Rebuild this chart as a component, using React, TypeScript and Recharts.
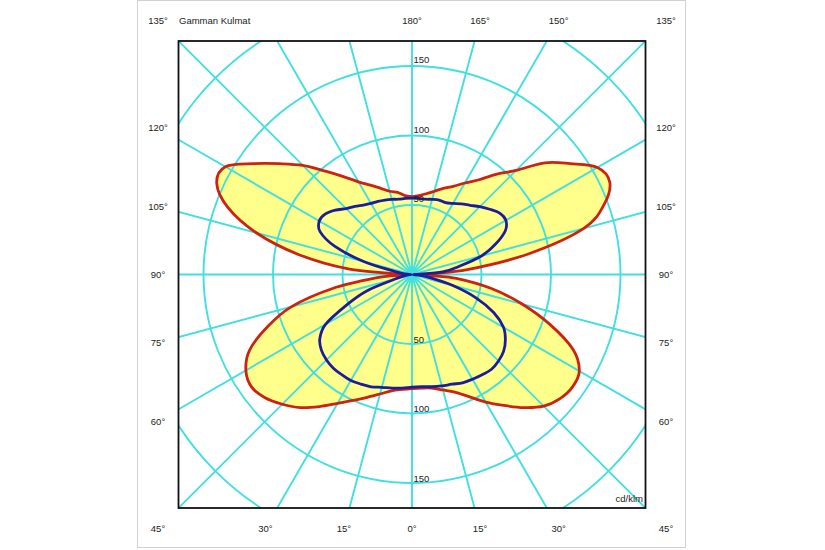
import {
  PolarAngleAxis,
  PolarGrid,
  PolarRadiusAxis,
  Radar,
  RadarChart,
} from "recharts";

// gamma angles (deg from nadir) and intensities in cd/klm, read per half-plane
const gammaDeg = [
  0, 5, 10, 15, 20, 25, 30, 35, 40, 45, 50, 55, 60, 65, 70, 75, 80, 85, 90,
  95, 100, 105, 110, 115, 120, 125, 130, 135, 140, 145, 150, 155, 160, 165,
  170, 175, 180,
];

const redRight = [
  82, 82, 83, 86, 90, 97, 106, 115, 125, 134, 139, 141, 139, 128, 106, 82, 58,
  32, 10, 40, 85, 128, 147, 157, 154, 139, 125, 106, 94, 83, 76, 70, 66, 62,
  59, 57, 56,
];

const redLeft = [
  82, 83, 85, 89, 94, 100, 107, 116, 125, 132, 138, 141, 138, 129, 111, 90,
  58, 24, 8, 46, 83, 116, 141, 155, 155, 139, 124, 111, 97, 86, 77, 71, 66, 62,
  60, 57, 56,
];

const blueRight = [
  81, 81, 82, 83, 84, 86, 87, 88, 89, 88, 86, 82, 76, 65, 49, 30, 13, 5, 2,
  22, 35, 52, 64, 74, 78, 77, 73, 69, 65, 62, 59, 57, 57, 56, 55, 55, 55,
];

const blueLeft = [
  81, 82, 83, 84, 86, 87, 88, 88, 88, 87, 85, 81, 72, 52, 35, 12, 5, 2, 1, 5,
  13, 36, 59, 73, 77, 76, 72, 67, 64, 61, 59, 58, 57, 56, 55, 55, 55,
];

const angleTicks = [
  0, 15, 30, 45, 60, 75, 90, 105, 120, 135, 150, 165, 180, 195, 210, 225, 240,
  255, 270, 285, 300, 315, 330, 345,
];
const hiddenAngleLabels = [195, 210];
const ringTicks = [0, 50, 100, 150, 200, 250];
const ringLabels = [50, 100, 150];

// right half: theta = gamma, left half: theta = 360 - gamma
const rows = [
  ...gammaDeg.map((g, i) => ({ theta: g, red: redRight[i], blue: blueRight[i] })),
  ...gammaDeg
    .map((g, i) => ({ theta: 360 - g, red: redLeft[i], blue: blueLeft[i] }))
    .filter((r) => r.theta > 180 && r.theta < 360)
    .reverse(),
];

const W = 825;
const H = 550;
const CX = 412;
const CY = 274.5;
const HALF = 233.5;
const LABEL_HALF = 254;
const OUTER = 347.5;

const FONT = '"Liberation Sans", Arial, Helvetica, sans-serif';
const TEXT = "#222";

// closed smooth outline through the radar points
function SmoothShape(props: any) {
  const { points, fill, fillOpacity, stroke, strokeWidth } = props;
  if (!points || points.length < 3) return null;
  const n = points.length;
  const p = (i: number) => points[(i + n) % n];
  let d = `M${p(0).x},${p(0).y}`;
  for (let i = 0; i < n; i++) {
    const p0 = p(i - 1);
    const p1 = p(i);
    const p2 = p(i + 1);
    const p3 = p(i + 2);
    const c1x = p1.x + (p2.x - p0.x) / 6;
    const c1y = p1.y + (p2.y - p0.y) / 6;
    const c2x = p2.x - (p3.x - p1.x) / 6;
    const c2y = p2.y - (p3.y - p1.y) / 6;
    d += `C${c1x},${c1y} ${c2x},${c2y} ${p2.x},${p2.y}`;
  }
  d += "Z";
  return (
    <path
      d={d}
      fill={fill}
      fillOpacity={fillOpacity}
      stroke={stroke}
      strokeWidth={strokeWidth}
      strokeLinejoin="round"
    />
  );
}

// degree labels sit on a square around the plot, along each spoke
function AngleTick(props: any) {
  const { payload } = props;
  const cx = props.cx ?? CX;
  const cy = props.cy ?? CY;
  const theta = payload.value;
  if (hiddenAngleLabels.includes(theta)) return null;
  const a = (payload.coordinate * Math.PI) / 180;
  const dx = Math.cos(a);
  const dy = -Math.sin(a);
  const k = LABEL_HALF / Math.max(Math.abs(dx), Math.abs(dy));
  const label = theta <= 180 ? theta : 360 - theta;
  return (
    <text
      x={cx + dx * k}
      y={cy + dy * k}
      textAnchor="middle"
      dominantBaseline="central"
      fontSize={9.5}
      fontFamily={FONT}
      fill={TEXT}
    >
      {label}°
    </text>
  );
}

// ring values, drawn above and below the centre
function RingTick(props: any) {
  const { x, y, payload } = props;
  const cy = props.cy ?? CY;
  if (!ringLabels.includes(payload.value)) return null;
  return (
    <g>
      <text x={x + 1.5} y={y - 3} fontSize={9.5} fontFamily={FONT} fill={TEXT}>
        {payload.value}
      </text>
      <text x={x + 1.5} y={2 * cy - y - 1.5} fontSize={9.5} fontFamily={FONT} fill={TEXT}>
        {payload.value}
      </text>
    </g>
  );
}

const chartProps = {
  width: W,
  height: H,
  data: rows,
  cx: CX,
  cy: CY,
  outerRadius: OUTER,
  startAngle: -90,
  endAngle: 270,
  margin: { top: 0, right: 0, bottom: 0, left: 0 },
};

export default function App() {
  return (
    <div
      style={{
        position: "absolute",
        left: 0,
        top: 0,
        width: W,
        height: H,
        overflow: "hidden",
        background: "#fff",
        fontFamily: FONT,
      }}
    >
      <div
        style={{
          position: "absolute",
          left: 137,
          top: 0,
          width: 549,
          height: 548,
          boxSizing: "border-box",
          border: "1px solid #d2d2d2",
        }}
      />

      {/* plot area, clipped to the square frame */}
      <div
        style={{
          position: "absolute",
          left: CX - HALF,
          top: CY - HALF,
          width: HALF * 2,
          height: HALF * 2,
          overflow: "hidden",
        }}
      >
        <div style={{ position: "absolute", left: HALF - CX, top: HALF - CY }}>
          <RadarChart {...chartProps}>
            <Radar
              dataKey="red"
              fill="#ffff8c"
              fillOpacity={1}
              stroke="none"
              shape={SmoothShape}
              dot={false}
              activeDot={false}
              isAnimationActive={false}
              zIndex={-200}
            />
            <PolarGrid gridType="circle" stroke="#42dfdf" strokeWidth={1.9} />
            <PolarAngleAxis
              dataKey="theta"
              type="number"
              domain={[0, 360]}
              ticks={angleTicks}
              tick={false}
              axisLine={false}
              tickLine={false}
            />
            <PolarRadiusAxis
              angle={90}
              type="number"
              domain={[0, 250]}
              ticks={ringTicks}
              tick={RingTick}
              axisLine={false}
              tickLine={false}
            />
            <Radar
              dataKey="red"
              fill="none"
              stroke="#cc2211"
              strokeWidth={2.8}
              shape={SmoothShape}
              dot={false}
              activeDot={false}
              isAnimationActive={false}
            />
            <Radar
              dataKey="blue"
              fill="none"
              stroke="#1c1c9c"
              strokeWidth={2.8}
              shape={SmoothShape}
              dot={false}
              activeDot={false}
              isAnimationActive={false}
            />
          </RadarChart>
        </div>
      </div>

      {/* degree labels around the frame */}
      <div style={{ position: "absolute", left: 0, top: 0 }}>
        <RadarChart {...chartProps}>
          <PolarAngleAxis
            dataKey="theta"
            type="number"
            domain={[0, 360]}
            ticks={angleTicks}
            tick={AngleTick}
            axisLine={false}
            tickLine={false}
          />
          <PolarRadiusAxis
            type="number"
            domain={[0, 250]}
            tick={false}
            axisLine={false}
            tickLine={false}
          />
          <Radar
            dataKey="red"
            fill="none"
            stroke="none"
            dot={false}
            activeDot={false}
            isAnimationActive={false}
          />
        </RadarChart>
      </div>

      <svg
        width={W}
        height={H}
        style={{ position: "absolute", left: 0, top: 0, pointerEvents: "none" }}
      >
        <rect
          x={CX - HALF}
          y={CY - HALF}
          width={HALF * 2}
          height={HALF * 2}
          fill="none"
          stroke="#111"
          strokeWidth={1.8}
        />
        <text x={179} y={23.5} fontSize={9.5} fontFamily={FONT} fill={TEXT}>
          Gamman Kulmat
        </text>
        <text
          x={643}
          y={502}
          textAnchor="end"
          fontSize={9.5}
          fontFamily={FONT}
          fill={TEXT}
        >
          cd/klm
        </text>
      </svg>
    </div>
  );
}
